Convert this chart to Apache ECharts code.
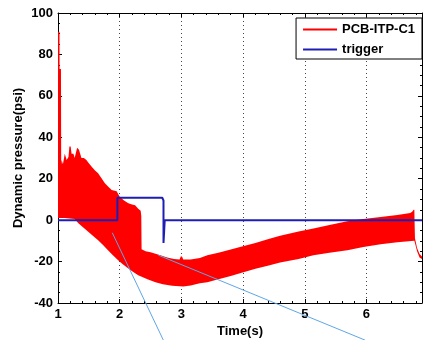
<!DOCTYPE html>
<html>
<head>
<meta charset="utf-8">
<script src="https://cdn.jsdelivr.net/npm/echarts@6/dist/echarts.min.js"></script>
<style>
  html, body { margin: 0; padding: 0; background: #fff; }
  #chart { width: 423px; height: 340px; }
</style>
</head>
<body>
<div id="chart"></div>
<script>
// Axis ranges and tick steps
const timeRange = [1, 6.9];
const timeStep = 1;
const pressureRange = [-40, 100];
const pressureStep = 20;

// PCB-ITP-C1: upper and lower edges of the oscillation band, [time s, psi]
const pcbUpper = [
  [1.000, 91], [1.024, 91], [1.026, 73], [1.048, 73], [1.052, 27], [1.06, 29],
  [1.08, 27], [1.11, 32], [1.14, 29], [1.17, 30.5], [1.185, 35.5], [1.205, 35.5],
  [1.22, 32], [1.25, 32], [1.27, 30], [1.31, 35], [1.34, 34], [1.38, 30],
  [1.42, 30], [1.46, 29], [1.50, 27.5], [1.55, 25.7], [1.60, 24], [1.65, 22.6],
  [1.70, 20.5], [1.76, 17.8], [1.82, 16], [1.87, 14.5], [1.95, 14], [2.00, 11.3],
  [2.07, 9.5], [2.14, 8.1], [2.20, 7.5], [2.25, 7.2], [2.30, 5.5], [2.34, 4.5],
  [2.35, 2], [2.355, -14], [2.42, -15], [2.50, -15.5], [2.58, -16.2], [2.66, -17],
  [2.77, -18], [2.88, -18.7], [2.97, -19], [2.99, -17.5], [3.01, -17.5], [3.03, -19],
  [3.15, -19], [3.30, -18.3], [3.42, -17], [3.60, -15.8], [3.80, -14.2], [3.95, -13],
  [4.20, -11], [4.40, -9.2], [4.60, -7.5], [4.90, -5.5], [5.14, -4], [5.40, -2.3],
  [5.69, -0.5], [5.95, 0.5], [6.23, 1.5], [6.50, 2.5], [6.71, 3.4], [6.74, 4],
  [6.765, 5], [6.776, 5], [6.78, -1], [6.786, -8.7], [6.82, -13.5], [6.86, -16.3],
  [6.90, -17.5]
];
const pcbLower = [
  [1.00, 1], [1.10, 1], [1.27, 0.5], [1.33, -1.5], [1.41, -3.5], [1.49, -5.6],
  [1.57, -7.7], [1.65, -9.7], [1.73, -12], [1.81, -14.5], [1.89, -17], [1.97, -19.3],
  [2.05, -21.3], [2.14, -23.3], [2.22, -25], [2.30, -26.6], [2.45, -28.5], [2.58, -30],
  [2.70, -31], [2.85, -31.7], [3.03, -32], [3.15, -31.5], [3.30, -30.5], [3.42, -30],
  [3.60, -28.5], [3.80, -27], [3.95, -25.6], [4.20, -23.5], [4.40, -22], [4.60, -20.5],
  [4.90, -18.7], [5.14, -17], [5.40, -15.8], [5.69, -14.5], [5.95, -13], [6.23, -11.6],
  [6.50, -10.7], [6.776, -10], [6.79, -11.5], [6.82, -15], [6.86, -18], [6.90, -18.8]
];

// trigger signal, [time s, psi]
const trigger = [
  [1.00, 0], [1.963, 0], [1.963, 10.8], [2.69, 10.8], [2.71, 9.5],
  [2.71, -11], [2.72, -11], [2.73, 0], [6.90, 0]
];

// Callout lines: [start time, start psi, end time, end psi]
const callouts = [
  [1.88, -6.1, 2.707, -57.9],
  [2.626, -16.9, 5.976, -57.9]
];

const FONT = 'Liberation Sans, Arial, sans-serif';
const labelStyle = { color: '#000', fontSize: 13, fontWeight: 'bold', fontFamily: FONT };
const frameLine = { show: true, onZero: false, lineStyle: { color: '#000', width: 1 } };

function timeAxis(position, main) {
  return {
    type: 'value', position: position,
    min: timeRange[0], max: timeRange[1], interval: timeStep,
    axisLine: frameLine,
    axisTick: { show: true, inside: true, length: 4, lineStyle: { color: '#000' } },
    minorTick: { show: true, splitNumber: 5, length: 2, lineStyle: { color: '#000' } },
    axisLabel: main ? Object.assign({ margin: 5, showMaxLabel: false }, labelStyle) : { show: false },
    splitLine: main ? { show: true, lineStyle: { color: '#444', type: [1, 3], width: 1 } } : { show: false },
    name: main ? 'Time(s)' : '',
    nameLocation: 'middle', nameGap: 22, nameMoveOverlap: false,
    nameTextStyle: labelStyle
  };
}
function pressureAxis(position, main) {
  return {
    type: 'value', position: position,
    min: pressureRange[0], max: pressureRange[1], interval: pressureStep,
    axisLine: frameLine,
    axisTick: { show: true, inside: true, length: 4, lineStyle: { color: '#000' } },
    minorTick: { show: true, splitNumber: 4, length: 2, lineStyle: { color: '#000' } },
    axisLabel: main ? Object.assign({ margin: 5 }, labelStyle) : { show: false },
    splitLine: { show: false },
    name: main ? 'Dynamic pressure(psi)' : '',
    nameLocation: 'middle', nameGap: 33, nameRotate: 90, nameMoveOverlap: false,
    nameTextStyle: labelStyle
  };
}

const chart = echarts.init(document.getElementById('chart'), null, { renderer: 'canvas' });
chart.setOption({
  animation: false,
  backgroundColor: '#fff',
  grid: { left: 58, top: 13, right: 1, bottom: 37, containLabel: false, outerBoundsMode: 'none' },
  xAxis: [timeAxis('bottom', true), timeAxis('top', false)],
  yAxis: [pressureAxis('left', true), pressureAxis('right', false)],
  legend: {
    orient: 'vertical', right: 1, top: 18,
    backgroundColor: '#fff', borderColor: '#000', borderWidth: 1,
    padding: [5, 7, 3, 7], itemGap: 7,
    icon: 'rect', itemWidth: 34, itemHeight: 2,
    textStyle: labelStyle,
    data: [
      { name: 'PCB-ITP-C1', itemStyle: { color: '#ff0000' } },
      { name: 'trigger', itemStyle: { color: '#1e1eb4' } }
    ]
  },
  series: [
    {
      name: 'PCB-ITP-C1', type: 'custom', coordinateSystem: 'cartesian2d',
      xAxisIndex: 0, yAxisIndex: 0, silent: true, z: 2,
      itemStyle: { color: '#ff0000' },
      data: [[timeRange[0], 0]],
      renderItem: function (params, api) {
        const pts = pcbUpper.map(function (p) { return api.coord(p); })
          .concat(pcbLower.slice().reverse().map(function (p) { return api.coord(p); }));
        return { type: 'polygon', shape: { points: pts }, style: { fill: '#ff0000' } };
      }
    },
    {
      name: 'trigger', type: 'line', xAxisIndex: 0, yAxisIndex: 0, z: 3,
      data: trigger, showSymbol: false, symbol: 'none',
      lineStyle: { color: '#1e1eb4', width: 2 },
      itemStyle: { color: '#1e1eb4' }
    },
    {
      name: 'callout', type: 'custom', coordinateSystem: 'cartesian2d',
      xAxisIndex: 0, yAxisIndex: 0, silent: true, clip: false, z: 4,
      data: callouts, encode: { x: [0, 2], y: [1, 3] },
      renderItem: function (params, api) {
        const a = api.coord([api.value(0), api.value(1)]);
        const b = api.coord([api.value(2), api.value(3)]);
        return {
          type: 'line',
          shape: { x1: a[0], y1: a[1], x2: b[0], y2: b[1] },
          style: { stroke: '#5ea6e8', lineWidth: 1 }
        };
      }
    }
  ]
});
</script>
</body>
</html>
